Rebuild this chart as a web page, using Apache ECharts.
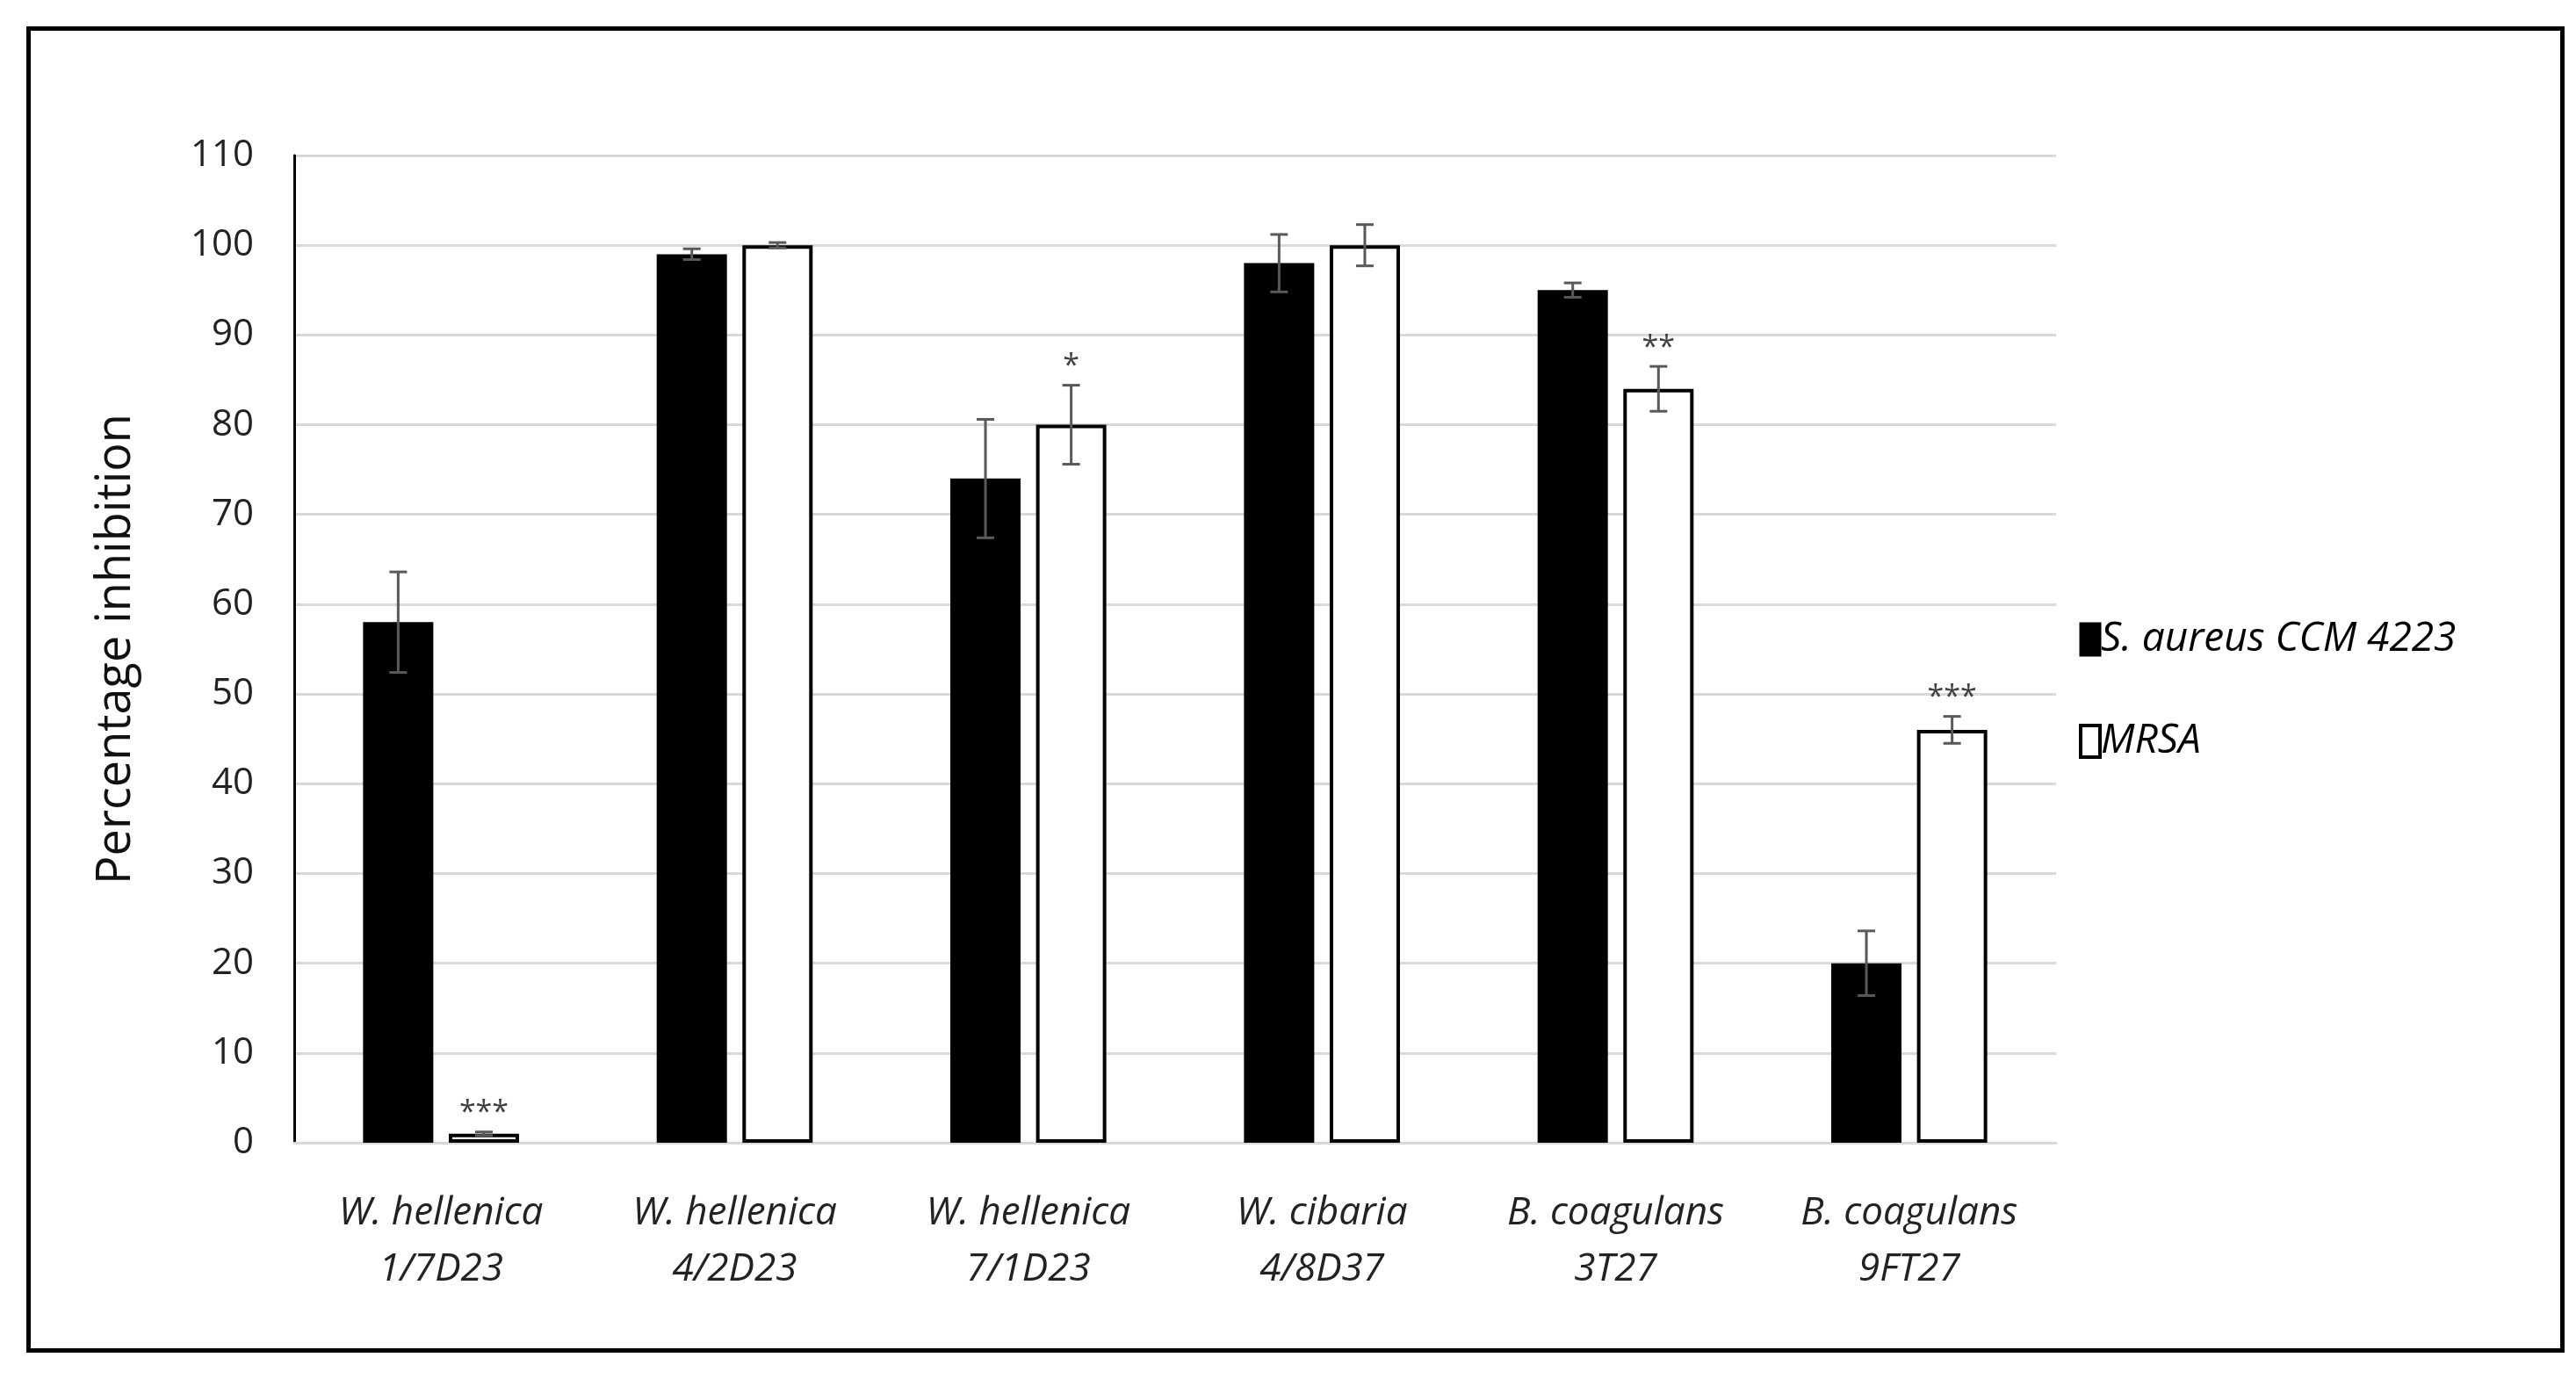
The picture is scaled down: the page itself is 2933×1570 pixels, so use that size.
<!DOCTYPE html>
<html>
<head>
<meta charset="utf-8">
<script src="https://cdn.jsdelivr.net/npm/echarts@6/dist/echarts.min.js"></script>
<style>
  html, body { margin: 0; padding: 0; background: #fff; }
  #frame { position: absolute; left: 30px; top: 30px; width: 2880px; height: 1500px; border: 5px solid #000; }
  #chart { position: absolute; left: 0; top: 0; width: 2933px; height: 1570px; }
</style>
</head>
<body>
<div id="frame"></div>
<div id="chart"></div>
<script>
// categories and values
var categories = ['W. hellenica\n1/7D23', 'W. hellenica\n4/2D23', 'W. hellenica\n7/1D23',
  'W. cibaria\n4/8D37', 'B. coagulans\n3T27', 'B. coagulans\n9FT27'];
var aureusValues = [58, 99, 74, 98, 95, 20];
var aureusErrors = [5.6, 0.6, 6.6, 3.2, 0.8, 3.6];
var mrsaValues = [1, 100, 80, 100, 84, 46];
var mrsaErrors = [0.2, 0.3, 4.4, 2.3, 2.5, 1.5];
var mrsaStars = ['***', '', '*', '', '**', '***'];

var FONT = 'Open Sans';
var barWidth = 80;
var barGap = 0.22;

var chart = echarts.init(document.getElementById('chart'));

// error bar with caps, offset to the bar's position inside the category
function errorSeries(name, values, errors, seriesIndex, stars) {
  return {
    name: name + ' err',
    type: 'custom',
    z: 10,
    data: values.map(function (v, i) { return [i, v - errors[i], v + errors[i], stars ? stars[i] : '']; }),
    renderItem: function (params, api) {
      var xi = api.value(0);
      var low = api.coord([xi, api.value(1)]);
      var high = api.coord([xi, api.value(2)]);
      var half = (barWidth + barWidth * barGap) / 2;
      var x = low[0] + (seriesIndex === 0 ? -half : half);
      var cap = 10;
      var st = { stroke: '#595959', lineWidth: 3 };
      var children = [
        { type: 'line', shape: { x1: x, y1: low[1], x2: x, y2: high[1] }, style: st },
        { type: 'line', shape: { x1: x - cap, y1: low[1], x2: x + cap, y2: low[1] }, style: st },
        { type: 'line', shape: { x1: x - cap, y1: high[1], x2: x + cap, y2: high[1] }, style: st }
      ];
      var star = api.value(3);
      if (star) {
        children.push({
          type: 'text',
          style: { x: x, y: high[1] - 4, text: star, fill: '#404040', font: '34px ' + FONT,
            align: 'center', verticalAlign: 'bottom' }
        });
      }
      return { type: 'group', children: children };
    }
  };
}

var option = {
  backgroundColor: 'transparent',
  animation: false,
  grid: { left: 335, right: 592, top: 177, bottom: 269 },
  legend: {
    orient: 'vertical',
    left: 2362,
    top: 700,
    itemWidth: 22,
    itemHeight: 36,
    itemGap: 70,
    icon: 'rect',
    data: [
      { name: 'S. aureus CCM 4223', itemStyle: { color: '#000', borderColor: '#000', borderWidth: 3 } },
      { name: 'MRSA', itemStyle: { color: '#fff', borderColor: '#000', borderWidth: 4 } }
    ],
    textStyle: { fontFamily: FONT, fontSize: 46, fontStyle: 'italic', color: '#000', padding: [0, 0, 0, -4] }
  },
  xAxis: {
    type: 'category',
    data: categories,
    axisTick: { show: false },
    axisLine: { lineStyle: { color: '#d9d9d9', width: 3 } },
    axisLabel: { fontFamily: FONT, fontSize: 44, fontStyle: 'italic', color: '#222', margin: 48, lineHeight: 64, interval: 0 }
  },
  yAxis: {
    type: 'value',
    min: 0, max: 110, interval: 10,
    name: 'Percentage inhibition',
    nameLocation: 'middle',
    nameGap: 175,
    nameTextStyle: { fontFamily: FONT, fontSize: 54, color: '#111' },
    axisLine: { show: true, lineStyle: { color: '#000', width: 3 } },
    axisTick: { show: false },
    axisLabel: { fontFamily: FONT, fontSize: 42, color: '#222', margin: 46 },
    splitLine: { lineStyle: { color: '#d9d9d9', width: 3 } }
  },
  series: [
    {
      name: 'S. aureus CCM 4223', type: 'bar', data: aureusValues,
      barWidth: barWidth, barGap: (barGap * 100) + '%',
      itemStyle: { color: '#000', borderColor: '#000', borderWidth: 3 }
    },
    {
      name: 'MRSA', type: 'bar', data: mrsaValues,
      barWidth: barWidth,
      itemStyle: { color: '#fff', borderColor: '#000', borderWidth: 4 }
    },
    errorSeries('aureus', aureusValues, aureusErrors, 0, null),
    errorSeries('mrsa', mrsaValues, mrsaErrors, 1, mrsaStars)
  ]
};

chart.setOption(option);
</script>
</body>
</html>
